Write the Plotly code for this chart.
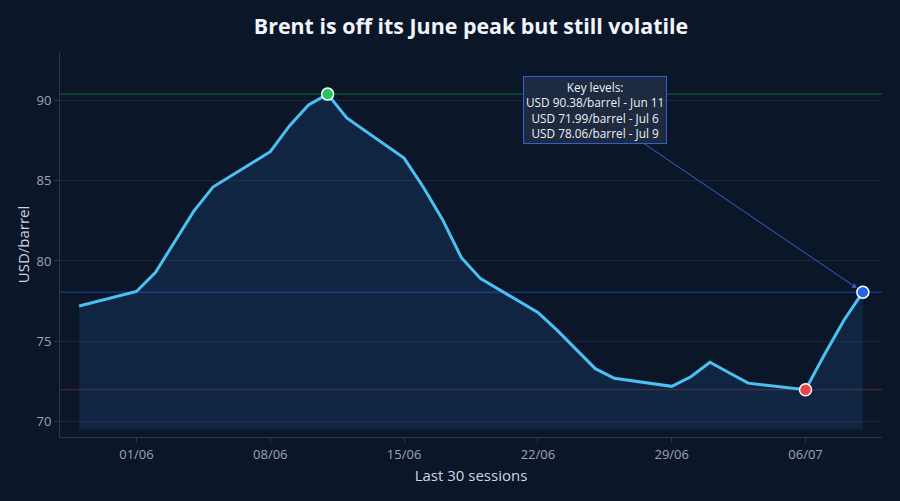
import plotly.graph_objects as go

dates = ["2020-05-29",
         "2020-06-01", "2020-06-02", "2020-06-03", "2020-06-04", "2020-06-05",
         "2020-06-08", "2020-06-09", "2020-06-10", "2020-06-11", "2020-06-12",
         "2020-06-15", "2020-06-16", "2020-06-17", "2020-06-18", "2020-06-19",
         "2020-06-22", "2020-06-23", "2020-06-24", "2020-06-25", "2020-06-26",
         "2020-06-29", "2020-06-30", "2020-07-01", "2020-07-02", "2020-07-03",
         "2020-07-06", "2020-07-07", "2020-07-08", "2020-07-09"]
prices = [77.2,
          78.1, 79.3, 81.2, 83.1, 84.6,
          86.8, 88.4, 89.7, 90.38, 88.9,
          86.4, 84.6, 82.6, 80.2, 78.9,
          76.8, 75.7, 74.5, 73.3, 72.7,
          72.2, 72.8, 73.7, 73.05, 72.4,
          71.99, 74.2, 76.3, 78.06]

peak_date, peak_val = "2020-06-11", 90.38
low_date, low_val = "2020-07-06", 71.99
last_date, last_val = "2020-07-09", 78.06
fill_base = 69.5

title = "Brent is off its June peak but still volatile"
x_title = "Last 30 sessions"
y_title = "USD/barrel"
note = ("Key levels:<br>USD 90.38/barrel - Jun 11<br>"
        "USD 71.99/barrel - Jul 6<br>USD 78.06/barrel - Jul 9")

BG = "#0b1628"
LINE = "#4cc0f2"
FONT = "Open Sans"

fig = go.Figure()
fig.add_trace(go.Scatter(x=dates, y=[fill_base] * len(dates), mode="lines",
                         line=dict(width=0), hoverinfo="skip", showlegend=False))
fig.add_trace(go.Scatter(x=dates, y=prices, mode="lines", fill="tonexty",
                         fillcolor="rgba(40,130,205,0.15)",
                         line=dict(color=LINE, width=3), showlegend=False))

for yv, col in [(peak_val, "rgba(34,197,94,0.45)"), (low_val, "rgba(239,68,68,0.35)"),
                (last_val, "rgba(37,99,235,0.6)")]:
    fig.add_shape(type="line", xref="paper", x0=0, x1=1, yref="y", y0=yv, y1=yv,
                  line=dict(color=col, width=1), layer="below")

for d, v, c in [(peak_date, peak_val, "#22c55e"), (low_date, low_val, "#ef4444"),
                (last_date, last_val, "#2563eb")]:
    fig.add_trace(go.Scatter(x=[d], y=[v], mode="markers", showlegend=False,
                             marker=dict(size=12, color=c, line=dict(color="white", width=1.5))))

fig.add_annotation(x=last_date, y=last_val, text=note, showarrow=True,
                   ax=-268, ay=-182, arrowhead=2, arrowsize=1, arrowwidth=1,
                   arrowcolor="#2f62d6", standoff=7,
                   bgcolor="rgba(31,43,64,0.95)", bordercolor="#2f5fd0", borderwidth=1,
                   borderpad=2, font=dict(family=FONT, size=11.8, color="#eef1f6"))

fig.update_layout(
    width=900, height=501,
    paper_bgcolor=BG, plot_bgcolor=BG,
    margin=dict(l=60, r=18, t=52, b=64),
    title=dict(text=f"<b>{title}</b>", x=0.5, xref="paper", y=0.947, yanchor="middle",
               font=dict(family=FONT, size=21.4, color="#f1f5f9")),
    font=dict(family=FONT, color="#9aa6b8"),
    xaxis=dict(range=["2020-05-28", "2020-07-10"], tickformat="%d/%m",
               tick0="2020-06-01", dtick=7 * 86400000, showgrid=False,
               showline=True, linecolor="#2a3649", ticks="outside", ticklen=5,
               tickcolor="#2a3649", tickfont=dict(size=13, color="#9aa6b8"),
               title=dict(text=x_title, font=dict(size=15, color="#cfd6e0"), standoff=8),
               zeroline=False),
    yaxis=dict(range=[69.05, 93.0], dtick=5, gridcolor="rgba(255,255,255,0.07)",
               showline=True, linecolor="#2a3649", ticks="outside", ticklen=5,
               tickcolor="#2a3649", tickfont=dict(size=13, color="#9aa6b8"),
               title=dict(text=y_title, font=dict(size=15, color="#cfd6e0"), standoff=3),
               zeroline=False),
)

fig.write_html("out.html")
